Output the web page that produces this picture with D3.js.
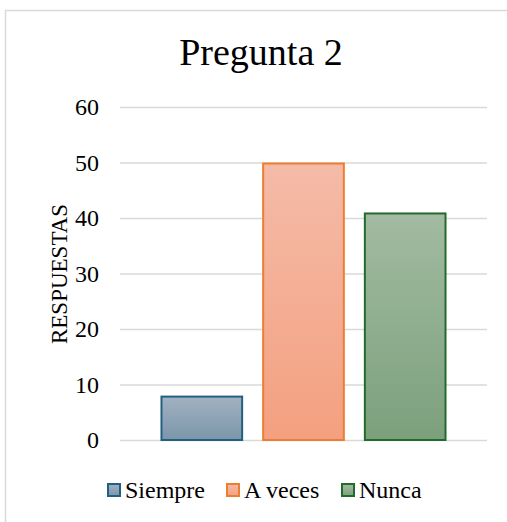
<!DOCTYPE html>
<html><head><meta charset="utf-8">
<script src="https://cdn.jsdelivr.net/npm/d3@7"></script>
<style>body{margin:0;background:#fff}svg{display:block}svg text{font-family:'Liberation Serif','Times New Roman',serif}</style>
</head><body>
<svg id="c" width="507" height="522"></svg>
<script>
const categories = ["Pregunta 2"];
const series = ["Siempre", "A veces", "Nunca"];
const values = [8, 50, 41];
const yTicks = [0, 10, 20, 30, 40, 50, 60];
const strokeColors = ["#23607f", "#ed7d31", "#236b2c"];
const topColors = ["#a1b2c1", "#f4bba8", "#a2bba2"];
const botColors = ["#7c95ab", "#f4a080", "#7ca07c"];

const svg = d3.select("#c");
const font = "'Liberation Serif','Times New Roman',serif";

svg.append("rect").attr("x", 5.5).attr("y", 10.5).attr("width", 520).attr("height", 530)
  .attr("fill", "#fff").attr("stroke", "#d9d9d9").attr("stroke-width", 1.5);

const defs = svg.append("defs");
series.forEach((s, i) => {
  const g = defs.append("linearGradient").attr("id", "g" + i).attr("x1", 0).attr("y1", 0).attr("x2", 0).attr("y2", 1);
  g.append("stop").attr("offset", "0%").attr("stop-color", topColors[i]);
  g.append("stop").attr("offset", "100%").attr("stop-color", botColors[i]);
});

const x0 = 120, x1 = 487, yTop = 107, yBot = 440;
const y = d3.scaleLinear().domain([0, 60]).range([yBot, yTop]);
const x = d3.scaleBand().domain(series).range([x0, x1]).paddingInner(0.187).paddingOuter(0.398);

svg.append("text").attr("x", 261).attr("y", 65).attr("text-anchor", "middle")
  .attr("font-family", font).attr("font-size", 38).attr("fill", "#000").text(categories[0]);

const yAxis = d3.axisLeft(y).tickValues(yTicks).tickSize(-(x1 - x0)).tickPadding(21);
const ga = svg.append("g").attr("transform", `translate(${x0},0)`).call(yAxis).attr("font-family", font);
ga.select(".domain").remove();
ga.selectAll(".tick line").attr("stroke", "#d9d9d9").attr("stroke-width", 1.5);
ga.selectAll(".tick text").attr("font-family", font).attr("font-size", 24).attr("fill", "#000");

svg.append("text").attr("transform", `translate(67,274) rotate(-90)`).attr("text-anchor", "middle")
  .attr("font-family", font).attr("font-size", 23).attr("fill", "#000").text("RESPUESTAS");

svg.selectAll("rect.bar").data(values).enter().append("rect").attr("class", "bar")
  .attr("x", (d, i) => x(series[i]) + 1)
  .attr("width", x.bandwidth() - 2)
  .attr("y", d => y(d) + 1)
  .attr("height", d => y(0) - y(d) - 1)
  .attr("fill", (d, i) => `url(#g${i})`)
  .attr("stroke", (d, i) => strokeColors[i]).attr("stroke-width", 2);

const legX = [108, 227, 342];
series.forEach((s, i) => {
  svg.append("rect").attr("x", legX[i]).attr("y", 484).attr("width", 12).attr("height", 12)
    .attr("fill", `url(#g${i})`).attr("stroke", strokeColors[i]).attr("stroke-width", 2);
  svg.append("text").attr("x", legX[i] + 17).attr("y", 498).attr("font-family", font)
    .attr("font-size", 24).attr("fill", "#000").text(s);
});
</script>
</body></html>
